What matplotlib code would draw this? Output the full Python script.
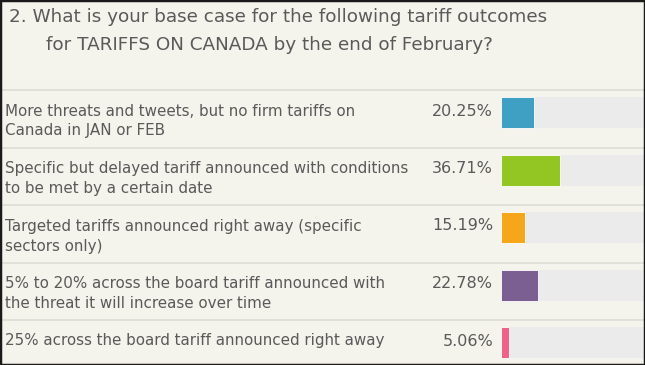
import matplotlib.pyplot as plt

# datos de la encuesta
options = [
    "More threats and tweets, but no firm tariffs on\nCanada in JAN or FEB",
    "Specific but delayed tariff announced with conditions\nto be met by a certain date",
    "Targeted tariffs announced right away (specific\nsectors only)",
    "5% to 20% across the board tariff announced with\nthe threat it will increase over time",
    "25% across the board tariff announced right away",
]
percents = [20.25, 36.71, 15.19, 22.78, 5.06]
colors = ["#3fa0c3", "#94c623", "#f5a61b", "#7b5f93", "#ef6287"]
title_1 = "2. What is your base case for the following tariff outcomes"
title_2 = "for TARIFFS ON CANADA by the end of February?"

W, H = 645, 365
fig = plt.figure(figsize=(W / 100, H / 100), dpi=100)
fig.patch.set_facecolor("#f4f3ec")
ax = fig.add_axes([0, 0, 1, 1])
ax.set_xlim(0, W)
ax.set_ylim(H, 0)
ax.set_facecolor("#f4f3ec")
ax.axis("off")

txt = "#5a5a5a"
ax.text(9, 17, title_1, fontsize=13.2, color=txt, va="center", ha="left")
ax.text(46, 45, title_2, fontsize=13.2, color=txt, va="center", ha="left")

x0 = 501
scale = 1.61  # pixeles por %
pitch = 57.5
for i, (lab, p, c) in enumerate(zip(options, percents, colors)):
    top = 90 + i * pitch
    ax.axhline(top, color="#dddcd5", lw=1.2)
    yc = top + 22.5
    ax.barh(yc, 100 * scale, left=x0, height=31, color="#ebebeb")
    ax.barh(yc, p * scale, left=x0, height=31, color=c, edgecolor="white", linewidth=0.6)
    lines = lab.split("\n")
    for j, ln in enumerate(lines):
        ax.text(5, top + 21 + j * 20, ln, fontsize=10.9, color=txt, va="center", ha="left")
    ax.text(493, top + 21, f"{p:.2f}%", fontsize=11.5, color=txt, va="center", ha="right")

# marco negro
fig.add_artist(plt.Rectangle((0, 0), 1, 1, transform=fig.transFigure, fill=False,
                             edgecolor="#1a1a1a", lw=2.5))

fig.savefig("out.png", dpi=100, facecolor=fig.get_facecolor())
